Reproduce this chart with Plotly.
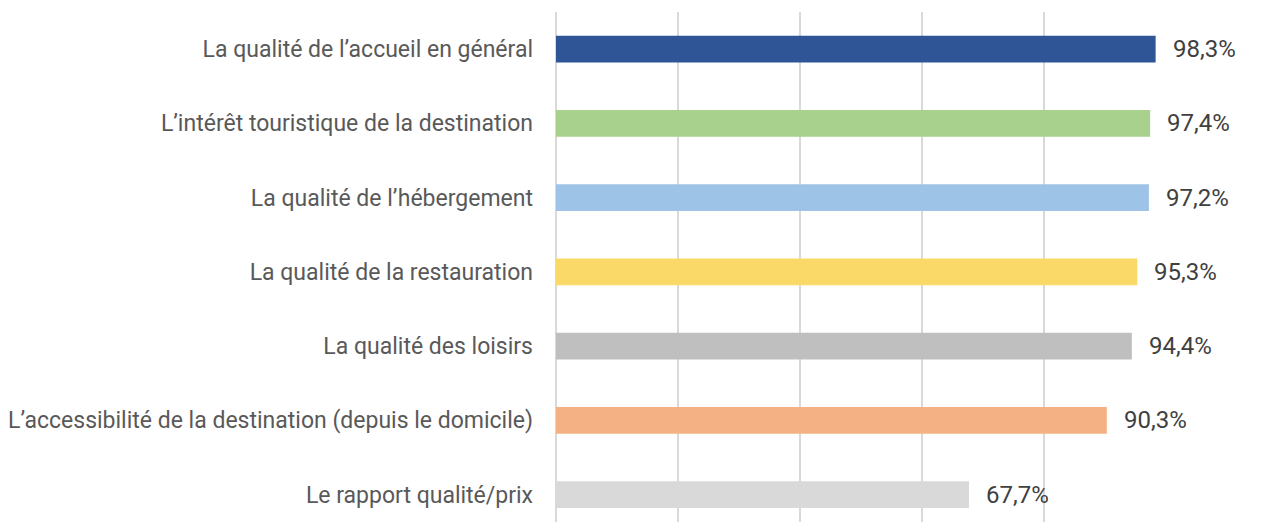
import plotly.graph_objects as go

categories = [
    "La qualité de l’accueil en général",
    "L’intérêt touristique de la destination",
    "La qualité de l’hébergement",
    "La qualité de la restauration",
    "La qualité des loisirs",
    "L’accessibilité de la destination (depuis le domicile)",
    "Le rapport qualité/prix",
]
values = [98.3, 97.4, 97.2, 95.3, 94.4, 90.3, 67.7]
labels = ["98,3%", "97,4%", "97,2%", "95,3%", "94,4%", "90,3%", "67,7%"]
colors = ["#2F5597", "#A9D18E", "#9DC3E6", "#FBD968", "#BFBFBF", "#F4B183", "#D9D9D9"]

pos = list(range(len(categories)))

fig = go.Figure()
fig.add_trace(go.Bar(
    x=values, y=pos, orientation="h",
    marker=dict(color=colors, line=dict(width=0)),
    width=0.36, hoverinfo="skip",
))

for p, v, t in zip(pos, values, labels):
    fig.add_annotation(x=v, y=p, text=t, showarrow=False, xanchor="left",
                       xshift=15, font=dict(family="Roboto", size=24, color="#404040"))

fig.update_layout(
    width=1273, height=514,
    margin=dict(l=548, r=115, t=4, b=0),
    paper_bgcolor="white", plot_bgcolor="white",
    showlegend=False,
    font=dict(family="Roboto", size=23, color="#595959"),
    xaxis=dict(range=[0, 100], dtick=20, showticklabels=False, showgrid=True,
               gridcolor="#D9D9D9", gridwidth=1.5, zeroline=True,
               zerolinecolor="#D9D9D9", zerolinewidth=1.5, showline=False, fixedrange=True),
    yaxis=dict(range=[6.37, -0.5], tickvals=pos, ticktext=categories,
               showgrid=False, zeroline=False, showline=False, ticks="",
               ticklabelstandoff=22, fixedrange=True),
)

fig.write_html("out.html")
